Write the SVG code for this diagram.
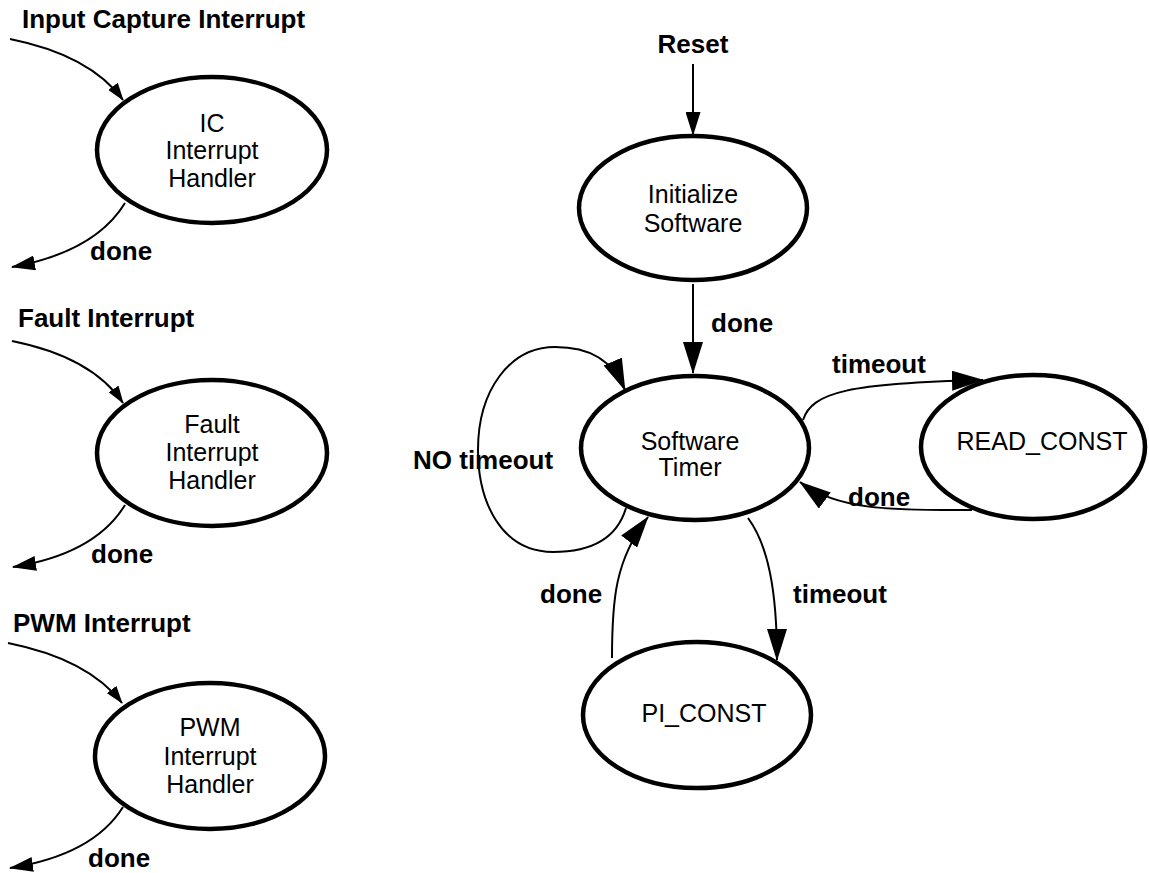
<svg xmlns="http://www.w3.org/2000/svg" width="1149" height="873" viewBox="0 0 1149 873">
<defs>
<style>
.node ellipse{fill:#fff;stroke:#000;stroke-width:4.5}
.nt{font-family:"Liberation Sans",Arial,sans-serif;font-size:25px;fill:#000;text-anchor:middle}
.lb{font-family:"Liberation Sans",Arial,sans-serif;font-size:26px;font-weight:bold;fill:#000}
.c{fill:none;stroke:#000;stroke-width:2}
.cs{marker-end:url(#msm)}
.cm{marker-end:url(#mmd)}
.cl{marker-end:url(#mlg)}
</style>
<marker id="msm" markerUnits="userSpaceOnUse" viewBox="0 0 18 12" markerWidth="18" markerHeight="12" refX="17" refY="6" orient="auto"><path d="M0,0 L18,6 L0,12 z" fill="#000"/></marker>
<marker id="mmd" markerUnits="userSpaceOnUse" viewBox="0 0 24 15" markerWidth="24" markerHeight="15" refX="23" refY="7.5" orient="auto"><path d="M0,0 L24,7.5 L0,15 z" fill="#000"/></marker>
<marker id="mlg" markerUnits="userSpaceOnUse" viewBox="0 0 32 20" markerWidth="32" markerHeight="20" refX="31" refY="10" orient="auto"><path d="M0,0 L32,10 L0,20 z" fill="#000"/></marker>
</defs>
<rect width="1149" height="873" fill="#fff"/>

<g id="connectors">
<path class="c cs" d="M10,39 Q90,55 123,100"/>
<path class="c cm" d="M125,203 Q95,252 12,267"/>
<path class="c cs" d="M12,341 Q92,357 123,403"/>
<path class="c cm" d="M125,505 Q95,554 13,567"/>
<path class="c cs" d="M8,643 Q88,659 122,703"/>
<path class="c cm" d="M123,807 Q93,855 10,868"/>
<path class="c cm" d="M693,64 L693,135"/>
<path class="c cl" d="M693,284 L693,373"/>
<path class="c cl" d="M626,508 C615,545 580,552 553,552 C500,552 478,500 478,450 C478,390 510,347 555,347 C590,347 612,360 625,390"/>
<path class="c cl" d="M803,420 C812,392 850,383 983,380"/>
<path class="c cl" d="M972,510 C900,510 840,512 800,482"/>
<path class="c cl" d="M748,518 C768,545 777,590 777,660"/>
<path class="c cl" d="M612,658 C612,600 615,560 648,517"/>
</g>

<g id="ic" class="node">
<ellipse cx="212" cy="150" rx="115" ry="73"/>
<text class="nt" x="212" y="132">IC</text>
<text class="nt" x="212" y="159">Interrupt</text>
<text class="nt" x="212" y="187">Handler</text>
</g>
<g id="fault" class="node">
<ellipse cx="212" cy="453" rx="115" ry="73"/>
<text class="nt" x="212" y="433">Fault</text>
<text class="nt" x="212" y="461">Interrupt</text>
<text class="nt" x="212" y="489">Handler</text>
</g>
<g id="pwm" class="node">
<ellipse cx="210" cy="756" rx="115" ry="73"/>
<text class="nt" x="210" y="736">PWM</text>
<text class="nt" x="210" y="765">Interrupt</text>
<text class="nt" x="210" y="793">Handler</text>
</g>
<g id="init" class="node">
<ellipse cx="693" cy="208" rx="114" ry="72"/>
<text class="nt" x="693" y="203">Initialize</text>
<text class="nt" x="693" y="232">Software</text>
</g>
<g id="timer" class="node">
<ellipse cx="695" cy="448" rx="114" ry="72"/>
<text class="nt" x="690" y="450">Software</text>
<text class="nt" x="690" y="476">Timer</text>
</g>
<g id="readconst" class="node">
<ellipse cx="1033" cy="447" rx="112" ry="72"/>
<text class="nt" x="1042" y="450">READ_CONST</text>
</g>
<g id="piconst" class="node">
<ellipse cx="697" cy="715" rx="114" ry="73"/>
<text class="nt" x="704" y="722">PI_CONST</text>
</g>

<g id="labels">
<text class="lb" x="22" y="28">Input Capture Interrupt</text>
<text class="lb" x="90" y="260">done</text>
<text class="lb" x="18" y="327">Fault Interrupt</text>
<text class="lb" x="91" y="563">done</text>
<text class="lb" x="13" y="632">PWM Interrupt</text>
<text class="lb" x="88" y="867">done</text>
<text class="lb" x="693" y="53" text-anchor="middle">Reset</text>
<text class="lb" x="711" y="332">done</text>
<text class="lb" x="413" y="469">NO timeout</text>
<text class="lb" x="832" y="373">timeout</text>
<text class="lb" x="848" y="506">done</text>
<text class="lb" x="793" y="603">timeout</text>
<text class="lb" x="540" y="603">done</text>
</g>
</svg>
